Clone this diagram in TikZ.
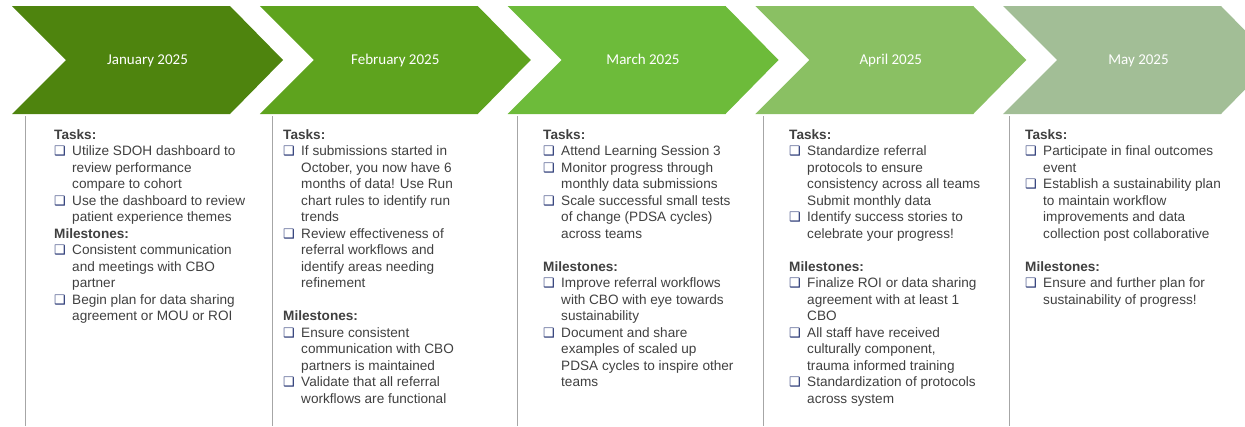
\documentclass[tikz,border=0pt]{standalone}
\usepackage{xcolor}
\usepackage{fontspec}
\setmainfont{Liberation Sans}
\newfontfamily\headfont{Carlito}
\newfontfamily\dejavu{DejaVu Sans}
\usepackage{tikz}

\definecolor{jancol}{HTML}{4E840E}
\definecolor{febcol}{HTML}{5EA31E}
\definecolor{marcol}{HTML}{6DBB3A}
\definecolor{aprcol}{HTML}{8AC063}
\definecolor{maycol}{HTML}{A2BE96}
\definecolor{bodygray}{HTML}{404040}
\definecolor{rulegray}{HTML}{A6A6A6}
\definecolor{boxnavy}{HTML}{1F2F6E}

\newcommand\bul{\makebox[18pt][l]{\textcolor{boxnavy}{\dejavu\fontsize{13}{13}\selectfont ❑}}}
\newcommand\ind{\hspace*{18pt}}

\tikzset{
  month/.style={text=white, font=\headfont\fontsize{15}{15}\selectfont,
    text height=10pt, text depth=3pt},
  plan/.style={anchor=north west, inner sep=0pt, align=left, text=bodygray,
    font=\fontsize{13.6}{16.5}\selectfont},
  sep/.style={rulegray, line width=1pt}
}

\begin{document}
\begin{tikzpicture}[x=1pt, y=-1pt]
    \useasboundingbox (0,0) rectangle (1245,426);
    \fill[jancol] (12,6) -- (230,6) -- (283,60) -- (230,114) -- (12,114) -- (66,60) -- cycle;
    \fill[febcol] (259.75,6) -- (477.75,6) -- (530.75,60) -- (477.75,114) -- (259.75,114) -- (313.75,60) -- cycle;
    \fill[marcol] (507.5,6) -- (725.5,6) -- (778.5,60) -- (725.5,114) -- (507.5,114) -- (561.5,60) -- cycle;
    \fill[aprcol] (755.25,6) -- (973.25,6) -- (1026.25,60) -- (973.25,114) -- (755.25,114) -- (809.25,60) -- cycle;
    \fill[maycol] (1003,6) -- (1221,6) -- (1274,60) -- (1221,114) -- (1003,114) -- (1057,60) -- cycle;
    \node[month] (jan) at (147.5,61) {January 2025};
    \node[month] (feb) at (395.25,61) {February 2025};
    \node[month] (mar) at (643,61) {March 2025};
    \node[month] (apr) at (890.75,61) {April 2025};
    \node[month] (may) at (1138.5,61) {May 2025};
    \draw[sep] (25,116) -- (25,426);
    \draw[sep] (272,116) -- (272,426);
    \draw[sep] (517,116) -- (517,426);
    \draw[sep] (763,116) -- (763,426);
    \draw[sep] (1009,116) -- (1009,426);
    \node[plan] (janplan) at (54,129) {\textbf{Tasks:}\\
      \bul Utilize SDOH dashboard to\\
      \ind review performance\\
      \ind compare to cohort\\
      \bul Use the dashboard to review\\
      \ind patient experience themes\\
      \textbf{Milestones:}\\
      \bul Consistent communication\\
      \ind and meetings with CBO\\
      \ind partner\\
      \bul Begin plan for data sharing\\
      \ind agreement or MOU or ROI};
    \node[plan] (febplan) at (283,129) {\textbf{Tasks:}\\
      \bul If submissions started in\\
      \ind October, you now have 6\\
      \ind months of data! Use Run\\
      \ind chart rules to identify run\\
      \ind trends\\
      \bul Review effectiveness of\\
      \ind referral workflows and\\
      \ind identify areas needing\\
      \ind refinement\\[16.5pt]
      \textbf{Milestones:}\\
      \bul Ensure consistent\\
      \ind communication with CBO\\
      \ind partners is maintained\\
      \bul Validate that all referral\\
      \ind workflows are functional};
    \node[plan] (marplan) at (543,129) {\textbf{Tasks:}\\
      \bul Attend Learning Session 3\\
      \bul Monitor progress through\\
      \ind monthly data submissions\\
      \bul Scale successful small tests\\
      \ind of change (PDSA cycles)\\
      \ind across teams\\[16.5pt]
      \textbf{Milestones:}\\
      \bul Improve referral workflows\\
      \ind with CBO with eye towards\\
      \ind sustainability\\
      \bul Document and share\\
      \ind examples of scaled up\\
      \ind PDSA cycles to inspire other\\
      \ind teams};
    \node[plan] (aprplan) at (789,129) {\textbf{Tasks:}\\
      \bul Standardize referral\\
      \ind protocols to ensure\\
      \ind consistency across all teams\\
      \ind Submit monthly data\\
      \bul Identify success stories to\\
      \ind celebrate your progress!\\[16.5pt]
      \textbf{Milestones:}\\
      \bul Finalize ROI or data sharing\\
      \ind agreement with at least 1\\
      \ind CBO\\
      \bul All staff have received\\
      \ind culturally component,\\
      \ind trauma informed training\\
      \bul Standardization of protocols\\
      \ind across system};
    \node[plan] (mayplan) at (1025,129) {\textbf{Tasks:}\\
      \bul Participate in final outcomes\\
      \ind event\\
      \bul Establish a sustainability plan\\
      \ind to maintain workflow\\
      \ind improvements and data\\
      \ind collection post collaborative\\[16.5pt]
      \textbf{Milestones:}\\
      \bul Ensure and further plan for\\
      \ind sustainability of progress!};
\end{tikzpicture}
\end{document}
